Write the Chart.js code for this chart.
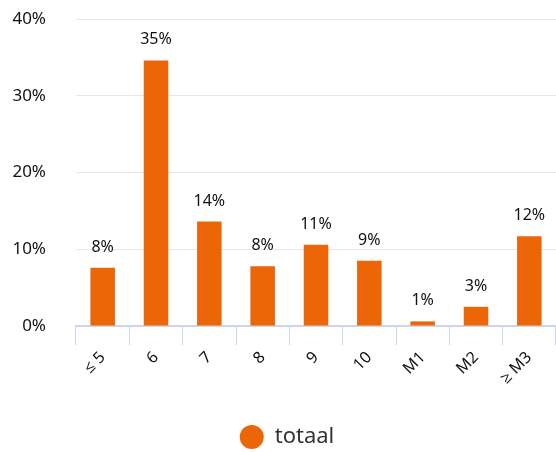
<!DOCTYPE html>
<html>
<head>
<meta charset="utf-8">
<script src="https://cdn.jsdelivr.net/npm/chart.js@4/dist/chart.umd.min.js"></script>
<style>
html,body{margin:0;padding:0;background:#fff;}
#wrap{width:556px;height:452px;position:relative;}
</style>
</head>
<body>
<div id="wrap"><canvas id="c" width="556" height="452"></canvas></div>
<script>
const categories = ['≤ 5', '6', '7', '8', '9', '10', 'M1', 'M2', '≥ M3'];
const totaal = [7.6, 34.6, 13.6, 7.8, 10.6, 8.5, 0.6, 2.5, 11.7];
const yTicks = [0, 10, 20, 30, 40];

const FONT = "'Noto Sans', 'Open Sans', sans-serif";

const dataLabelPlugin = {
  id: 'dataLabels',
  afterDatasetsDraw(chart) {
    const ctx = chart.ctx;
    const meta = chart.getDatasetMeta(0);
    ctx.save();
    ctx.font = "16px " + FONT;
    ctx.fillStyle = '#111';
    ctx.textAlign = 'center';
    ctx.textBaseline = 'alphabetic';
    meta.data.forEach((bar, i) => {
      const v = chart.data.datasets[0].data[i];
      ctx.fillText(Math.round(v) + '%', bar.x, bar.y - 16);
    });
    ctx.restore();
  }
};

const legendShift = {
  id: 'legendShift',
  afterLayout(chart) {
    if (chart.legend) { chart.legend.left += 9; chart.legend.right += 9; }
  }
};

new Chart(document.getElementById('c'), {
  type: 'bar',
  data: {
    labels: categories,
    datasets: [{
      label: 'totaal',
      data: totaal,
      backgroundColor: '#ec6608',
      borderWidth: 0,
      categoryPercentage: 1,
      barPercentage: 0.46
    }]
  },
  options: {
    responsive: false,
    animation: false,
    layout: { padding: { top: 19, right: 0, left: 0, bottom: -6 } },
    scales: {
      y: {
        min: 0, max: 40,
        afterBuildTicks(scale) { scale.ticks = yTicks.map(v => ({ value: v })); },
        afterFit(scale) { scale.width = 76; },
        grid: { color: '#e6e6e6', lineWidth: 1, drawTicks: true, tickLength: 30, tickColor: 'rgba(0,0,0,0)' },
        border: { display: false },
        ticks: {
          padding: 0,
          color: '#111',
          font: { size: 17, family: FONT },
          callback: v => v + '%'
        }
      },
      x: {
        afterFit(scale) { scale.height = 96; },
        grid: { drawOnChartArea: false, drawTicks: true, tickLength: 19, color: '#ccd6eb', lineWidth: 1, offset: true },
        border: { display: true, color: '#ccd6eb', width: 2 },
        ticks: {
          padding: 3,
          maxRotation: 45, minRotation: 45,
          color: '#111',
          font: { size: 16, family: FONT }
        }
      }
    },
    plugins: {
      legend: {
        position: 'bottom',
        labels: {
          usePointStyle: true,
          pointStyle: 'circle',
          pointStyleWidth: 24,
          boxHeight: 17,
          padding: 4,
          color: '#333',
          font: { size: 22, family: FONT }
        }
      },
      tooltip: { enabled: false }
    }
  },
  plugins: [dataLabelPlugin, legendShift]
});
</script>
</body>
</html>
